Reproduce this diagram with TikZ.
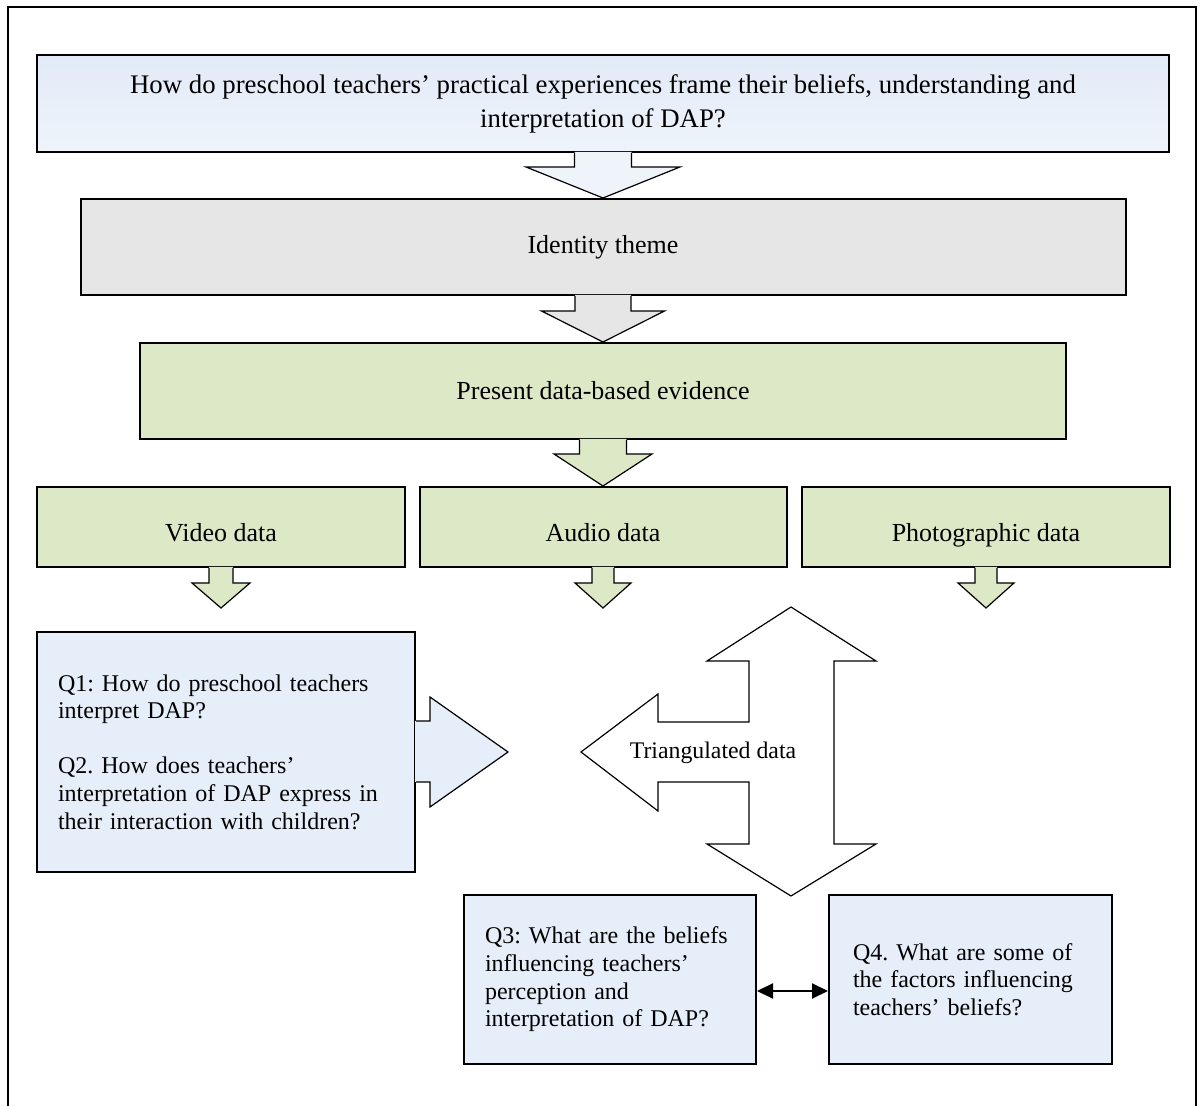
\documentclass[tikz,border=0pt]{standalone}
\usepackage{fontspec}
\setmainfont{Liberation Serif}
\usetikzlibrary{calc,arrows.meta,positioning}

\definecolor{qblue}{RGB}{230,238,249}
\definecolor{qbluetop}{RGB}{226,234,247}
\definecolor{qbluebot}{RGB}{239,244,251}
\definecolor{themegray}{RGB}{230,230,230}
\definecolor{datagreen}{RGB}{221,233,198}

% fill colour, start, tip, half shaft, half head, head length
\newcommand{\blockarrow}[6]{%
	\fill[#1] ($(#2)+(-#4,-1)$) -- ($(#3)+(-#4,-#6)$) -- ($(#3)+(-#5,-#6)$) -- (#3) -- ($(#3)+(#5,-#6)$) -- ($(#3)+(#4,-#6)$) -- ($(#2)+(#4,-1)$) -- cycle;
	\draw[arrowline] ($(#2)+(-#4,0)$) -- ($(#3)+(-#4,-#6)$) -- ($(#3)+(-#5,-#6)$) -- (#3) -- ($(#3)+(#5,-#6)$) -- ($(#3)+(#4,-#6)$) -- ($(#2)+(#4,0)$);
}

\begin{document}
\frenchspacing
\begin{tikzpicture}[x=0.5pt,y=-0.5pt,
		box/.style={draw, line width=1pt, align=center, inner sep=0pt, font=\fontsize{13}{13.8}\selectfont},
		databox/.style={box, fill=datagreen, minimum width=184pt, minimum height=40pt, text height=16pt, text depth=1.4pt},
		qbox/.style={box, fill=qblue, align=left, font=\fontsize{12}{13.8}\selectfont},
		arrowline/.style={line width=0.6pt, line join=miter}]
		\useasboundingbox (0,0) rectangle (1201,1106);
		\draw[line width=0.7pt] (8,1106) -- (8,7) -- (1196,7) -- (1196,1106);

		\node[box, top color=qbluetop, bottom color=qbluebot, minimum width=566pt, minimum height=48.5pt, font=\fontsize{13.4}{17}\selectfont] (question) at (603,103.5) {How do preschool teachers' practical experiences frame their beliefs, understanding and\\ interpretation of DAP?};
		\node[box, fill=themegray, minimum width=522.5pt, minimum height=48pt] (theme) at (603,247) {Identity theme};
		\node[box, fill=datagreen, minimum width=463pt, minimum height=48pt] (evidence) at (603,391) {Present data-based evidence};

		\node[databox] (video) at (221,527) {Video data};
		\node[databox, minimum width=183.5pt] (audio) at (603,527) {Audio data};
		\node[databox] (photo) at (986,527) {Photographic data};

		\blockarrow{qbluebot}{question.south}{theme.north}{28.5}{77}{31}
		\blockarrow{themegray}{theme.south}{evidence.north}{28}{61.5}{31}
		\blockarrow{datagreen}{evidence.south}{audio.north}{23.5}{49}{32}

		\coordinate (videotip) at ($(video.south)+(0,40)$);
		\coordinate (audiotip) at ($(audio.south)+(0,40)$);
		\coordinate (phototip) at ($(photo.south)+(0,40)$);
		\blockarrow{datagreen}{video.south}{videotip}{12}{29}{25}
		\blockarrow{datagreen}{audio.south}{audiotip}{11}{28}{25}
		\blockarrow{datagreen}{photo.south}{phototip}{11}{28}{25}

		\node[qbox, minimum width=189pt, minimum height=120pt, text width=168pt, inner xsep=10.5pt] (q12) at (226,752) {Q1: How do preschool teachers\\ interpret DAP?\\[13.8pt] Q2. How does teachers'\\ interpretation of DAP express in\\ their interaction with children?};

		\fill[qblue] ($(q12.east)+(-1,-31)$) -- ($(q12.east)+(14,-31)$) -- ($(q12.east)+(14,-55)$) -- ($(q12.east)+(92,0)$) -- ($(q12.east)+(14,55)$) -- ($(q12.east)+(14,30)$) -- ($(q12.east)+(-1,30)$) -- cycle;
		\draw[arrowline] ($(q12.east)+(0,-31)$) -- ($(q12.east)+(14,-31)$) -- ($(q12.east)+(14,-55)$) -- ($(q12.east)+(92,0)$) -- ($(q12.east)+(14,55)$) -- ($(q12.east)+(14,30)$) -- ($(q12.east)+(0,30)$);

		\draw[arrowline, fill=white] (791,607) -- (876,661) -- (834,661) -- (834,844) -- (876,844) -- (791,896) -- (707,844) -- (749,844) -- (749,782) -- (658,782) -- (658,811) -- (581,752) -- (658,694) -- (658,722) -- (749,722) -- (749,661) -- (707,661) -- cycle;
		\node[font=\fontsize{11.9}{13.8}\selectfont] (triangulated) at (713,753) {Triangulated data};

		\node[qbox, minimum width=146pt, minimum height=84.5pt, text width=125pt, inner xsep=10.5pt] (q3) at (610,979.5) {Q3: What are the beliefs\\ influencing teachers'\\ perception and\\ interpretation of DAP?};
		\node[qbox, minimum width=141.5pt, minimum height=84.5pt, text width=117.5pt, inner xsep=12pt] (q4) at (970.5,979.5) {Q4. What are some of\\ the factors influencing\\ teachers' beliefs?};

		\draw[{Triangle[length=8pt,width=7.5pt]}-{Triangle[length=8pt,width=7.5pt]}, line width=1pt] ($(q3.east)+(0,11.5)$) -- ($(q4.west)+(0,11.5)$);

	\end{tikzpicture}
\end{document}
